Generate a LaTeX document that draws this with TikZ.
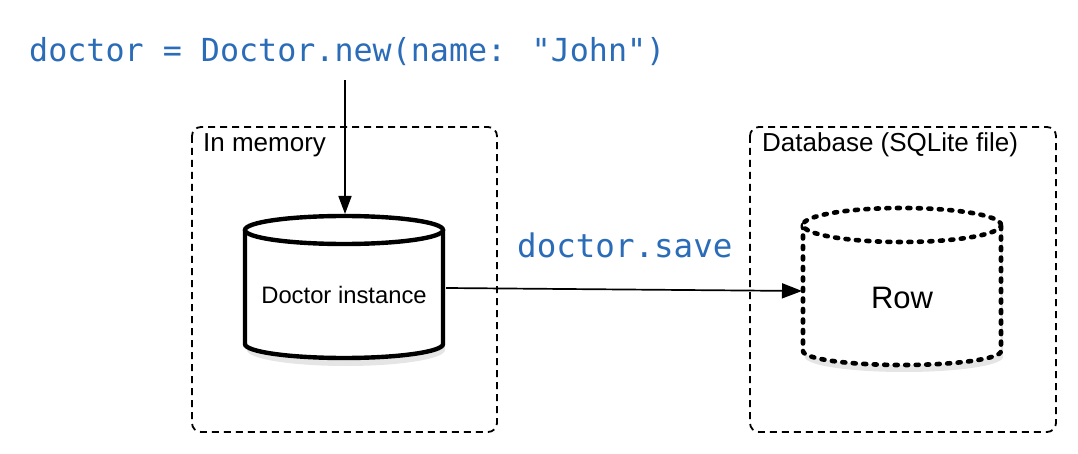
\documentclass[tikz,border=0pt]{standalone}
\usepackage{fontspec}
\setmainfont{Liberation Sans}
\newfontfamily\codefont{DejaVu Sans Mono}
\usetikzlibrary{arrows.meta}
\definecolor{codeblue}{HTML}{2B6CB8}
\begin{document}
\begin{tikzpicture}[x=1pt,y=-1pt,
  dashbox/.style={draw=black,line width=1.8pt,dash pattern=on 7pt off 5pt,rounded corners=9pt},
  boxlabel/.style={anchor=base west,inner sep=0pt,font=\fontsize{26}{30}\selectfont},
  codetext/.style={anchor=base west,inner sep=0pt,text=codeblue,font=\codefont\fontsize{31.7}{36}\selectfont},
  solidcyl/.style={draw=black,line width=4.4pt,fill=white},
  dotcyl/.style={draw=black,line width=4.6pt,line cap=round,dash pattern=on 3pt off 7.5pt,fill=white},
  cylshadow/.style={fill=black,opacity=0.10},
  conn/.style={draw=black,line width=1.7pt}]
\useasboundingbox (0,0) rectangle (1078,454);
\fill[white] (0,0) rectangle (1078,454);

% containers
\draw[dashbox] (192,127) rectangle (497,432);
\draw[dashbox] (750,127) rectangle (1056,432);
\node[boxlabel] (memlabel) at (203,152) {In memory};
\node[boxlabel] (dblabel) at (762,152) {Database (SQLite file)};

% code text
\node[codetext] (code) at (29,62) {doctor = Doctor.new(name: "John")};
\node[codetext,font=\codefont\fontsize{32.5}{36}\selectfont] (save) at (517,258) {doctor.save};

% left cylinder (solid)
\fill[cylshadow] (247,236) -- (247,350) arc[start angle=180,end angle=360,x radius=99pt,y radius=16pt] -- (445,236) -- cycle;
\path[solidcyl,draw=none] (245,230) -- (245,344) arc[start angle=180,end angle=360,x radius=99pt,y radius=14pt] -- (443,230) -- cycle;
\draw[solidcyl,fill=none] (245,230) -- (245,344) arc[start angle=180,end angle=360,x radius=99pt,y radius=14pt] -- (443,230);
\draw[solidcyl] (344,230) ellipse[x radius=99pt,y radius=14pt];
\node[font=\fontsize{23.8}{27}\selectfont,inner sep=0pt,anchor=base] (inst) at (344,303) {Doctor instance};

% right cylinder (dotted)
\fill[cylshadow] (805,230) -- (805,357) arc[start angle=180,end angle=360,x radius=99pt,y radius=15pt] -- (1003,230) -- cycle;
\fill[white] (803,225) -- (803,351) arc[start angle=180,end angle=360,x radius=99pt,y radius=14pt] -- (1001,225) -- cycle;
\draw[dotcyl,fill=none] (803,225) -- (803,351) arc[start angle=180,end angle=360,x radius=99pt,y radius=14pt] -- (1001,225);
\draw[dotcyl] (902,225) ellipse[x radius=99pt,y radius=17pt];
\node[font=\fontsize{31}{35}\selectfont,inner sep=0pt,anchor=base] (row) at (902,308) {Row};

% connectors
\coordinate (codeout) at (345,80);
\coordinate (lcyltop) at (345,214);
\coordinate (lcylright) at (446,288);
\coordinate (rcylleft) at (802,291);
\draw[conn,-{Triangle[length=18pt,width=13pt]}] (codeout) -- (lcyltop);
\draw[conn,-{Triangle[length=20pt,width=15pt]}] (lcylright) -- (rcylleft);
\end{tikzpicture}
\end{document}
